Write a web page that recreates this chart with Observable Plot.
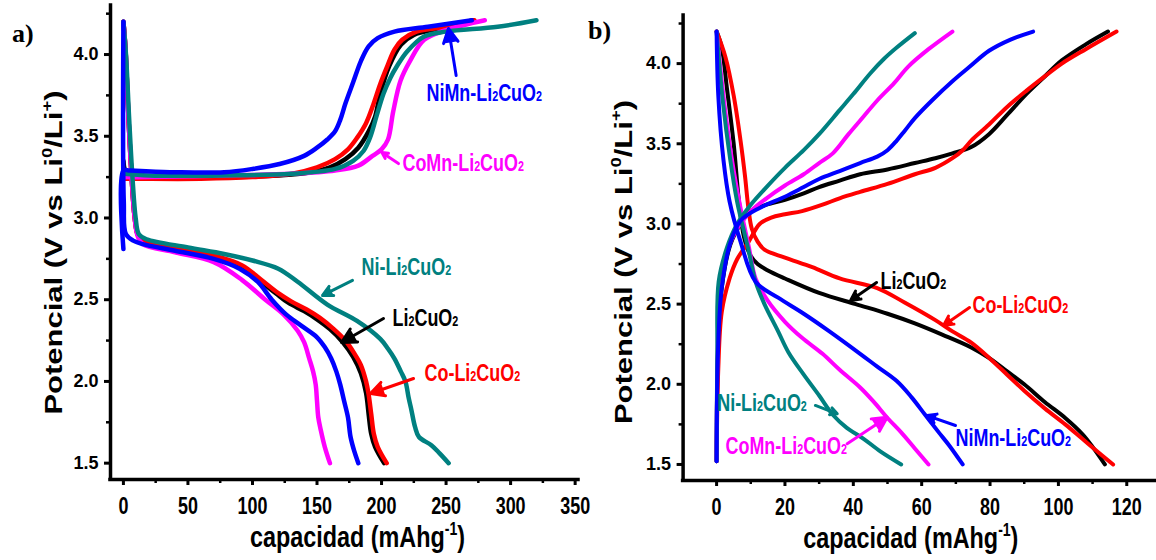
<!DOCTYPE html>
<html><head><meta charset="utf-8">
<script src="https://cdn.jsdelivr.net/npm/d3@7"></script>
<script src="https://cdn.jsdelivr.net/npm/@observablehq/plot@0.6"></script>
<style>
body{margin:0;background:#fff;}
#chart{position:relative;width:1156px;height:560px;overflow:hidden;background:#fff;font-family:"Liberation Sans",Arial,sans-serif;}
#chart .panel{position:absolute;top:0;}
#chart .tag{position:absolute;font-family:"Liberation Serif","Times New Roman",serif;font-weight:bold;font-size:26px;line-height:26px;}
</style></head><body><div id="chart"></div>
<script>
// ---------- categories ----------
const samples = ["Li₂CuO₂","Co-Li₂CuO₂","CoMn-Li₂CuO₂","Ni-Li₂CuO₂","NiMn-Li₂CuO₂"];
const colors  = ["#000000","#ff0000","#ff00ff","#008080","#0000ff"];
const panelTags = ["a)","b)"];
const xTitle = "capacidad (mAhg⁻¹)";
const yTitle = "Potencial (V vs Li⁰/Li⁺)";

// ---------- ticks ----------
const yMajor = [1.5,2.0,2.5,3.0,3.5,4.0];
const yMinor = [1.75,2.25,2.75,3.25,3.75,4.25];
const xMajorA = [0,50,100,150,200,250,300,350];
const xMinorA = [25,75,125,175,225,275,325];
const xMajorB = [0,20,40,60,80,100,120];
const xMinorB = [10,30,50,70,90,110];

// ---------- panel a : charge (capacity, V) ----------
const aChgLi   = [[0,3.24],[0,3.35],[1,3.3],[5,3.27],[30,3.25],[80,3.25],[120,3.26],[145,3.28],[160,3.31],[172,3.36],[182,3.43],[190,3.53],[195,3.62],[199,3.76],[206,3.93],[215,4.06],[225,4.12],[245,4.16],[271,4.21]];
const aChgCo   = [[0,3.24],[10,3.24],[60,3.24],[100,3.25],[130,3.27],[150,3.31],[164,3.36],[174,3.42],[181,3.49],[188,3.58],[193,3.68],[199,3.82],[204,3.92],[210,4.03],[216,4.09],[227,4.14],[250,4.17],[272,4.21]];
const aChgCoMn = [[0,3.25],[20,3.25],[78,3.26],[130,3.27],[164,3.29],[182,3.32],[193,3.38],[200,3.42],[205,3.48],[209,3.65],[214.7,3.84],[222,3.96],[233,4.09],[250,4.15],[280,4.21]];
const aChgNi   = [[0,3.27],[20,3.26],[78,3.26],[130,3.27],[164,3.3],[178,3.35],[186,3.41],[191,3.49],[196,3.62],[201.5,3.76],[207,3.86],[212,3.93],[220,4.02],[233,4.11],[250,4.14],[290,4.17],[320,4.21]];
const aChgNiMn = [[0,2.81],[0,3.29],[5,3.29],[40,3.28],[78,3.28],[100,3.3],[121,3.33],[140,3.38],[150,3.43],[158,3.48],[164,3.53],[168,3.6],[172,3.7],[178,3.83],[184,3.96],[190,4.05],[197,4.1],[210,4.14],[236,4.17],[270,4.21]];
// ---------- panel a : discharge ----------
const aDisLi   = [[0,4.2],[1.5,4.05],[4,3.6],[6,3.3],[8.5,3.02],[11,2.9],[15,2.86],[40,2.81],[70,2.76],[90,2.7],[105,2.62],[118,2.54],[128,2.48],[140,2.43],[150,2.38],[160,2.32],[170,2.24],[178,2.15],[184,2.05],[188,1.93],[190,1.8],[192,1.68],[195,1.6],[202,1.5]];
const aDisCo   = [[0,4.2],[1.5,4.05],[4,3.6],[6,3.3],[8.5,3.02],[11,2.9],[15,2.86],[40,2.81],[70,2.77],[92,2.71],[107,2.62],[120,2.54],[130,2.49],[142,2.44],[152,2.39],[163,2.32],[172,2.25],[179,2.17],[184,2.1],[188,2.0],[190,1.92],[192,1.8],[194,1.68],[197,1.6],[204,1.5]];
const aDisCoMn = [[0,4.2],[1.5,4.05],[4,3.6],[6,3.3],[8.5,3.02],[11,2.89],[15,2.84],[40,2.79],[70,2.73],[92,2.62],[110,2.5],[124,2.41],[135,2.31],[140,2.24],[144,2.14],[147,2.06],[149,1.98],[150,1.88],[151,1.78],[153,1.7],[156,1.6],[160,1.5]];
const aDisNi   = [[0,4.2],[2,4.0],[4.5,3.6],[7,3.25],[9.5,3.0],[12,2.9],[18,2.87],[50,2.82],[78,2.78],[100,2.74],[120,2.69],[135,2.61],[158,2.47],[181,2.37],[199,2.26],[205,2.2],[210,2.14],[215,2.06],[218.5,2.0],[221,1.9],[223,1.83],[226,1.72],[229,1.66],[238.6,1.61],[245,1.56],[252,1.5]];
const aDisNiMn = [[0,4.2],[0.3,3.1],[2,2.9],[8,2.86],[15,2.84],[40,2.8],[70,2.75],[90,2.69],[104,2.61],[115,2.5],[126,2.41],[138,2.34],[150,2.27],[156,2.21],[161,2.14],[165,2.06],[168,1.98],[171,1.88],[174,1.78],[176,1.66],[179,1.57],[182,1.5]];

// ---------- panel b : charge ----------
const bChgLi   = [[0,1.52],[0.4,2.2],[1.5,2.6],[4,2.87],[7,3.0],[10,3.08],[14.6,3.12],[20,3.15],[25.5,3.19],[30,3.23],[36,3.27],[42,3.31],[50,3.34],[58,3.38],[64,3.41],[69,3.44],[74.5,3.48],[79.7,3.56],[85,3.68],[90.6,3.81],[96,3.92],[101,4.02],[108,4.12],[114.5,4.2]];
const bChgCo   = [[0,1.52],[0.5,2.1],[1.5,2.45],[3.8,2.66],[6,2.78],[9.4,2.89],[12.6,3.0],[16,3.04],[20,3.06],[25,3.08],[31,3.12],[36,3.16],[42,3.2],[50,3.25],[58,3.31],[64,3.35],[69,3.41],[72,3.46],[74.5,3.52],[79.7,3.62],[85,3.73],[90.6,3.83],[96,3.92],[101,4.0],[108,4.09],[117,4.2]];
const bChgCoMn = [[0,1.52],[0.3,2.2],[1,2.6],[3,2.82],[6,2.97],[10,3.08],[14.6,3.16],[20,3.24],[25.5,3.31],[30,3.38],[34,3.44],[38.6,3.56],[43,3.67],[47,3.77],[52,3.88],[56,3.98],[62,4.09],[69,4.2]];
const bChgNi   = [[0,1.52],[0.2,2.2],[0.6,2.64],[3,2.85],[6,3.0],[10,3.12],[14.6,3.23],[20,3.35],[25.5,3.46],[30,3.56],[36,3.71],[40,3.81],[45,3.94],[49,4.03],[52.7,4.1],[58,4.19]];
const bChgNiMn = [[0,1.52],[0.4,2.2],[1.5,2.6],[4,2.88],[7,3.02],[12.6,3.1],[20,3.17],[25.5,3.23],[30,3.28],[36,3.33],[42,3.38],[47,3.42],[50,3.46],[52.7,3.52],[55,3.58],[58,3.66],[63,3.77],[69,3.89],[74,3.98],[79.7,4.08],[86,4.15],[92.6,4.2]];
// ---------- panel b : discharge ----------
const bDisLi   = [[0,4.2],[1.5,4.1],[3,3.85],[5,3.5],[6.5,3.15],[8,2.92],[10,2.8],[12,2.75],[15,2.71],[20,2.66],[30,2.57],[40.7,2.5],[50,2.44],[58,2.38],[66,2.31],[74.5,2.23],[80,2.16],[85,2.08],[90,2.0],[96,1.89],[102,1.79],[107,1.69],[110,1.61],[113.6,1.5]];
const bDisCo   = [[0,4.2],[2.6,4.04],[5,3.8],[7,3.52],[8.3,3.3],[9.3,3.1],[10.3,2.97],[12,2.89],[14,2.84],[20,2.79],[28,2.73],[36,2.66],[47,2.6],[55,2.51],[64,2.4],[69,2.33],[74.5,2.26],[80,2.16],[85,2.06],[90,1.96],[96,1.85],[102,1.75],[107,1.66],[112,1.57],[116,1.5]];
const bDisCoMn = [[0,4.2],[2,3.8],[4.5,3.4],[7,3.1],[9.5,2.85],[11.4,2.66],[15,2.52],[20,2.39],[25,2.29],[31,2.19],[36,2.09],[42,1.98],[46,1.89],[50,1.79],[54,1.7],[58,1.6],[62,1.5]];
const bDisNi   = [[0,4.2],[1.8,3.77],[4,3.4],[6,3.14],[9.4,2.83],[11.4,2.64],[14,2.5],[18,2.33],[21,2.2],[25.5,2.06],[30,1.93],[34,1.81],[38,1.73],[43,1.66],[48,1.58],[54,1.5]];
const bDisNiMn = [[0,4.2],[0.5,3.8],[2,3.4],[3.8,3.14],[7,2.89],[11.4,2.64],[18,2.54],[25.5,2.44],[33,2.33],[42,2.19],[47,2.11],[52.7,2.02],[57,1.92],[61,1.81],[65,1.7],[68,1.62],[72,1.5]];

// ---------- annotations (data units) ----------
const annA = [
  {sample:"NiMn-Li₂CuO₂", tx:234.8, ty:3.762, x1:257.8, y1:3.872, x2:251.9, y2:4.159},
  {sample:"CoMn-Li₂CuO₂", tx:216.2, ty:3.333, x1:213.1, y1:3.333, x2:200.3, y2:3.40},
  {sample:"Ni-Li₂CuO₂",   tx:184.5, ty:2.697, x1:177.5, y1:2.618, x2:154.3, y2:2.526},
  {sample:"Li₂CuO₂",      tx:208.5, ty:2.385, x1:201.5, y1:2.385, x2:169.0, y2:2.238},
  {sample:"Co-Li₂CuO₂",   tx:233.3, ty:2.049, x1:224.8, y1:2.018, x2:191.4, y2:1.926}
];
const annB = [
  {sample:"Li₂CuO₂",      tx:47.95, ty:2.641, x1:46.8, y1:2.635, x2:39.2, y2:2.523},
  {sample:"Co-Li₂CuO₂",   tx:74.87, ty:2.491, x1:74.0, y1:2.479, x2:66.4, y2:2.367},
  {sample:"Ni-Li₂CuO₂",   tx:0.18,  ty:1.877, x1:28.9, y1:1.868, x2:35.3, y2:1.816},
  {sample:"CoMn-Li₂CuO₂", tx:2.6,   ty:1.609, x1:38.2, y1:1.629, x2:49.9, y2:1.795},
  {sample:"NiMn-Li₂CuO₂", tx:69.9,  ty:1.659, x1:69.9, y1:1.743, x2:61.6, y2:1.805}
];

// ---------- build tables ----------
function rows(sample, kind, pts){ return pts.map(([x,v]) => ({sample, kind, x, v})); }
const seriesA = [
  ...rows("Li₂CuO₂","c",aChgLi), ...rows("Li₂CuO₂","d",aDisLi),
  ...rows("Co-Li₂CuO₂","c",aChgCo), ...rows("Co-Li₂CuO₂","d",aDisCo),
  ...rows("CoMn-Li₂CuO₂","c",aChgCoMn), ...rows("CoMn-Li₂CuO₂","d",aDisCoMn),
  ...rows("Ni-Li₂CuO₂","c",aChgNi), ...rows("Ni-Li₂CuO₂","d",aDisNi),
  ...rows("NiMn-Li₂CuO₂","c",aChgNiMn), ...rows("NiMn-Li₂CuO₂","d",aDisNiMn)
];
const seriesB = [
  ...rows("Li₂CuO₂","c",bChgLi), ...rows("Li₂CuO₂","d",bDisLi),
  ...rows("Co-Li₂CuO₂","c",bChgCo), ...rows("Co-Li₂CuO₂","d",bDisCo),
  ...rows("CoMn-Li₂CuO₂","c",bChgCoMn), ...rows("CoMn-Li₂CuO₂","d",bDisCoMn),
  ...rows("Ni-Li₂CuO₂","c",bChgNi), ...rows("Ni-Li₂CuO₂","d",bDisNi),
  ...rows("NiMn-Li₂CuO₂","c",bChgNiMn), ...rows("NiMn-Li₂CuO₂","d",bDisNiMn)
];

const SQ = 0.78;
const chart = document.getElementById("chart");

function panel(opts){
  const {series, ann, xDomain, xMajor, xMinor, width, left, mL, mR, mT, mB, lineW, yDy, yDx, xDx} = opts;
  const yDomain = [1.4, 4.3];
  const svg = Plot.plot({
    width, height: 560,
    marginLeft: mL, marginRight: mR, marginTop: mT, marginBottom: mB,
    style: {background: "transparent", overflow: "visible", fontFamily: "'Liberation Sans', Arial, sans-serif"},
    x: {domain: xDomain, label: null},
    y: {domain: yDomain, label: null},
    color: {domain: samples, range: colors},
    marks: [
      Plot.line(series, {x: "x", y: "v", z: d => d.sample + d.kind, stroke: "sample",
        strokeWidth: lineW, curve: "catmull-rom", strokeLinejoin: "round"}),
      Plot.arrow(ann, {x1: "x1", y1: "y1", x2: "x2", y2: "y2", stroke: "sample",
        strokeWidth: 3, headLength: 10, headAngle: 55}),
      Plot.text(ann, {x: "tx", y: "ty", text: "sample", fill: "sample", textAnchor: "start",
        fontSize: 23, fontWeight: "bold"}),
      Plot.ruleX([xDomain[0]], {strokeWidth: 3.5, strokeLinecap: "square"}),
      Plot.ruleY([yDomain[0]], {strokeWidth: 3.5, strokeLinecap: "square"}),
      Plot.axisY(yMajor, {tickSize: 6, tickPadding: 6, strokeWidth: 3, fontSize: 18, fontWeight: "bold",
        tickFormat: d3.format(".1f"), label: null}),
      Plot.axisY(yMinor, {tickSize: 4, strokeWidth: 2.5, tickFormat: () => "", label: null}),
      Plot.axisX(xMajor, {tickSize: 6, tickPadding: 12, strokeWidth: 3, fontSize: 23, fontWeight: "bold",
        tickFormat: d3.format("d"), label: null}),
      Plot.axisX(xMinor, {tickSize: 4, strokeWidth: 2.5, tickFormat: () => "", label: null}),
      Plot.text([yTitle], {text: d => d, frameAnchor: "left", textAnchor: "middle", lineAnchor: "middle",
        rotate: -90, dx: yDx, dy: yDy, fontSize: 31, fontWeight: "bold"}),
      Plot.text([xTitle], {text: d => d, frameAnchor: "bottom", textAnchor: "middle", lineAnchor: "middle",
        dx: xDx, dy: 58, fontSize: 30, fontWeight: "bold"})
    ]
  });
  svg.classList.add("panel");
  svg.style.left = left + "px";
  chart.appendChild(svg);
  fixTexts(svg);
  // filled arrowheads: fill the open head sub-path with the arrow's own colour
  svg.querySelectorAll('g[aria-label="arrow"] path').forEach(p => {
    const c = p.getAttribute("stroke") || p.parentNode.getAttribute("stroke");
    if (c) p.setAttribute("fill", c);
  });
  return svg;
}

const SUB = {"₂": "2"};
const SUP = {"⁰": "0", "⁺": "+", "⁻": "-", "¹": "1"};
function fixTexts(svg){
  const NS = "http://www.w3.org/2000/svg";
  svg.querySelectorAll("text").forEach(t => {
    const fs = parseFloat(getComputedStyle(t).fontSize);
    const tr = t.getAttribute("transform") || "";
    if (fs >= 20) {
      t.setAttribute("transform", tr + (tr.includes("rotate") ? ` scale(1,${SQ})` : ` scale(${SQ},1)`));
    }
    const s = t.textContent;
    if (!/[₂⁰⁺⁻¹]/.test(s)) return;
    const runs = [];
    for (const ch of s) {
      const type = SUB[ch] ? "sub" : SUP[ch] ? "sup" : "n";
      const c = SUB[ch] || SUP[ch] || ch;
      if (runs.length && runs[runs.length-1].type === type) runs[runs.length-1].text += c;
      else runs.push({type, text: c});
    }
    t.textContent = "";
    for (const r of runs) {
      const sp = document.createElementNS(NS, "tspan");
      sp.textContent = r.text;
      if (r.type === "sub") { sp.setAttribute("font-size", (0.6*fs) + "px"); }
      if (r.type === "sup") { sp.setAttribute("font-size", (0.6*fs) + "px"); sp.setAttribute("baseline-shift", (0.42*fs) + "px"); }
      t.appendChild(sp);
    }
  });
}

panel({series: seriesA, ann: annA, xDomain: [-10, 352.6], xMajor: xMajorA, xMinor: xMinorA,
  width: 580, left: 0, mL: 110, mR: 2, mT: 5, mB: 81, lineW: 4.5, yDx: -56, yDy: 10, xDx: 13});
panel({series: seriesB, ann: annB, xDomain: [-9.8, 128.7], xMajor: xMajorB, xMinor: xMinorB,
  width: 576, left: 580, mL: 102.6, mR: 0, mT: 15, mB: 80, lineW: 4, yDx: -59, yDy: 14, xDx: -9});

[[panelTags[0], 12, 21], [panelTags[1], 588, 18]].forEach(([txt, l, tp]) => {
  const d = document.createElement("div");
  d.className = "tag"; d.textContent = txt;
  d.style.left = l + "px"; d.style.top = tp + "px";
  chart.appendChild(d);
});
</script></body></html>
